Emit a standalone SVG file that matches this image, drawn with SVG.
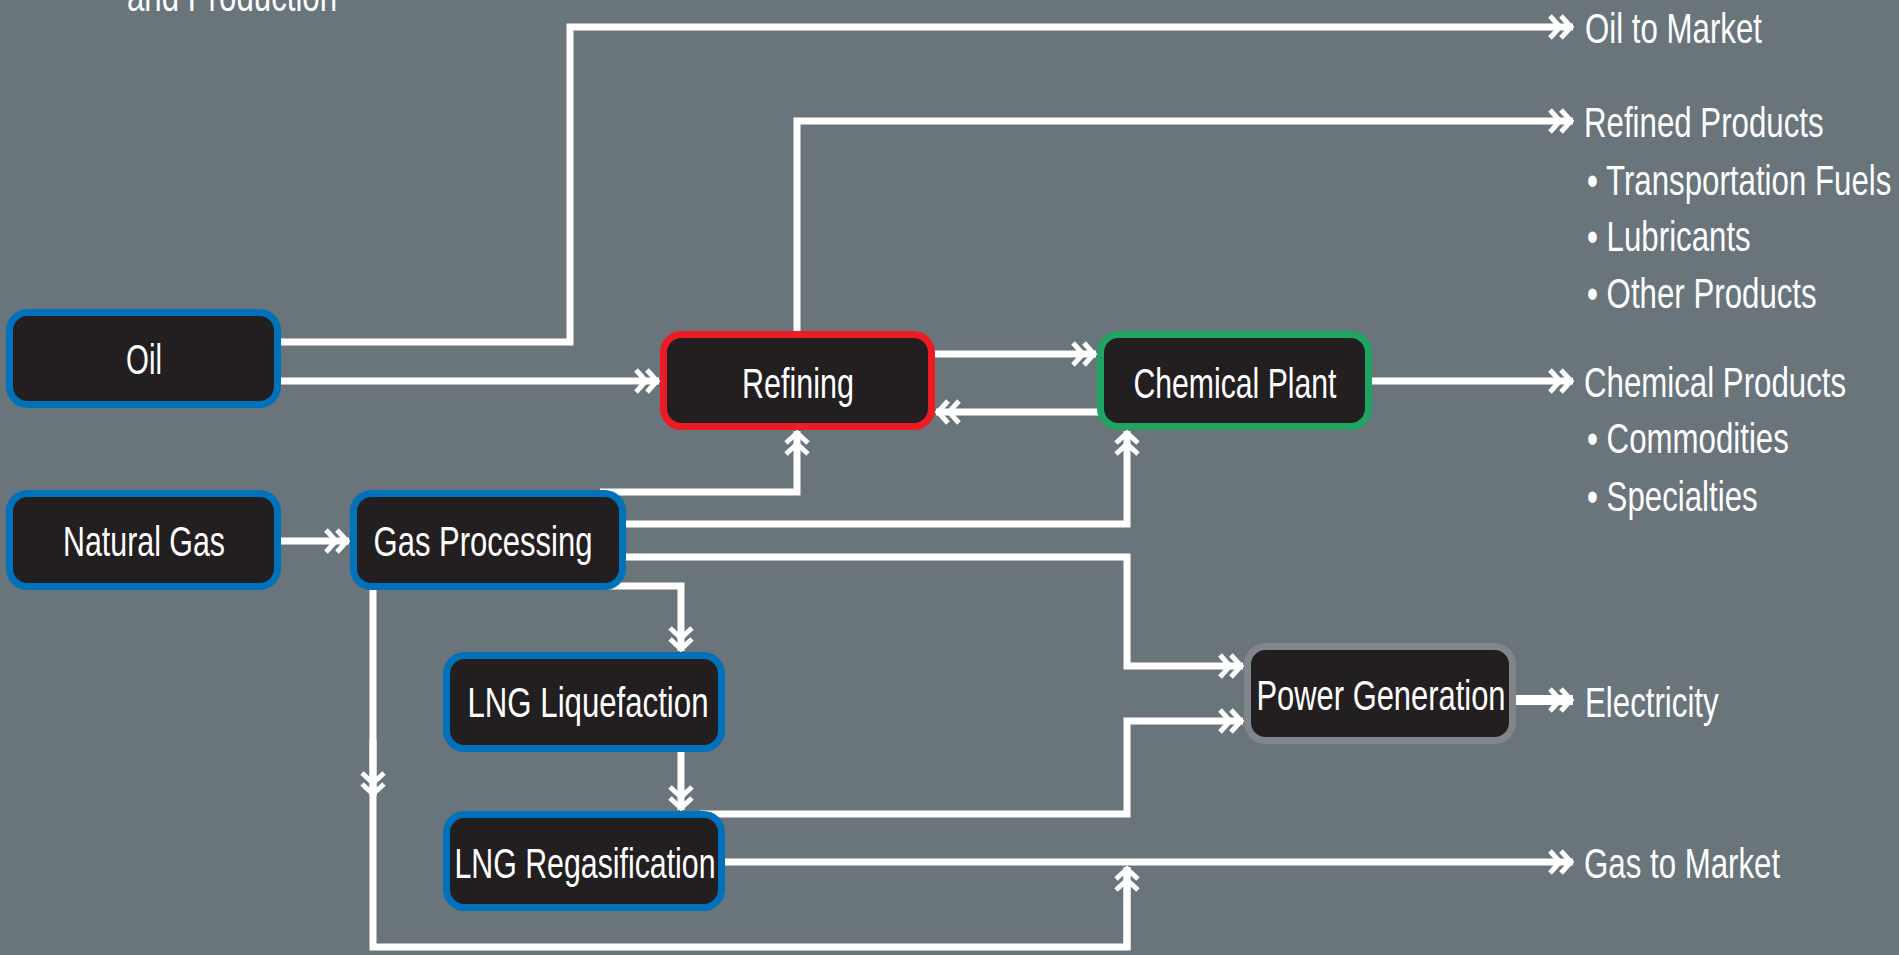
<svg xmlns="http://www.w3.org/2000/svg" width="1899" height="955" viewBox="0 0 1899 955">
<defs>
<style>
.bg{fill:#69747b}
.node{fill:#231f20;stroke-width:7}
.blue{stroke:#0072bc}
.red{stroke:#ed1c24}
.green{stroke:#1fa463}
.gray{stroke:#80868b}
.lbl{font-family:"Liberation Sans",Arial,sans-serif;font-size:42px;fill:#ffffff}
.ntx{text-anchor:middle}
.ln{fill:none;stroke:#ffffff;stroke-width:7;stroke-linejoin:miter;marker-end:url(#dbl)}
.plain{marker-end:none}
</style>
<marker id="dbl" markerUnits="userSpaceOnUse" viewBox="-26 -15 28 30" refX="0" refY="0" markerWidth="28" markerHeight="30" orient="auto" overflow="visible">
<path d="M-23,-11 L-13,0 L-23,11 M-12,-11 L-2,0 L-12,11" fill="none" stroke="#ffffff" stroke-width="5"/>
</marker>
</defs>
<rect class="bg" x="0" y="0" width="1899" height="955"/>
<text class="lbl" transform="translate(127,11) scale(0.744,1)">and Production</text>
<g id="connectors">
<path class="ln" d="M270,342 H570 V27 H1573"/>
<path class="ln" d="M270,381 H659"/>
<path class="ln" d="M797,335 V121 H1573"/>
<path class="ln" d="M930,354 H1096"/>
<path class="ln" d="M1100,412 H936"/>
<path class="ln" d="M1365,381 H1573"/>
<path class="ln" d="M270,541 H349"/>
<path class="ln" d="M600,492 H797 V431"/>
<path class="ln" d="M620,524 H1127 V431"/>
<path class="ln" d="M620,557 H1127 V666 H1243"/>
<path class="ln" d="M600,586 H681 V651"/>
<path class="ln" d="M681,745 V810"/>
<path class="ln" d="M700,814 H1127 V721 H1243"/>
<path class="ln" d="M720,862 H1573"/>
<path class="ln plain" d="M373,585 V947 H1127 V868"/>
<path class="ln" d="M1127,950 V867"/>
<path class="ln" d="M373,740 V796"/>
<path class="ln" d="M1510,700 H1573" style="stroke-width:10"/>
</g>
<g id="oil"><rect class="node blue" x="9.5" y="312.5" width="268" height="92" rx="18"/><text class="lbl ntx" x="144" y="374" textLength="36" lengthAdjust="spacingAndGlyphs">Oil</text></g>
<g id="refining"><rect class="node red" x="663.5" y="334.5" width="268" height="92" rx="18"/><text class="lbl ntx" x="798" y="398" textLength="112" lengthAdjust="spacingAndGlyphs">Refining</text></g>
<g id="chemical-plant"><rect class="node green" x="1100.5" y="334.5" width="268" height="92" rx="18"/><text class="lbl ntx" x="1235" y="398" textLength="203" lengthAdjust="spacingAndGlyphs">Chemical Plant</text></g>
<g id="natural-gas"><rect class="node blue" x="9.5" y="493.5" width="268" height="93" rx="18"/><text class="lbl ntx" x="144" y="556" textLength="162" lengthAdjust="spacingAndGlyphs">Natural Gas</text></g>
<g id="gas-processing"><rect class="node blue" x="353.5" y="493.5" width="269" height="93" rx="18"/><text class="lbl ntx" x="483" y="556" textLength="219" lengthAdjust="spacingAndGlyphs">Gas Processing</text></g>
<g id="lng-liquefaction"><rect class="node blue" x="446.5" y="655.5" width="275" height="93" rx="18"/><text class="lbl ntx" x="588" y="717" textLength="241" lengthAdjust="spacingAndGlyphs">LNG Liquefaction</text></g>
<g id="lng-regasification"><rect class="node blue" x="446.5" y="814.5" width="275" height="93" rx="18"/><text class="lbl ntx" x="585" y="878" textLength="261" lengthAdjust="spacingAndGlyphs">LNG Regasification</text></g>
<g id="power-generation"><rect class="node gray" x="1247.5" y="646.5" width="265" height="94" rx="18"/><text class="lbl ntx" x="1381" y="710" textLength="249" lengthAdjust="spacingAndGlyphs">Power Generation</text></g>
<g id="outputs">
<text class="lbl" transform="translate(1585,43) scale(0.744,1)">Oil to Market</text>
<text class="lbl" transform="translate(1584,137) scale(0.744,1)">Refined Products</text>
<text class="lbl" transform="translate(1587,195) scale(0.744,1)">• Transportation Fuels</text>
<text class="lbl" transform="translate(1587,251) scale(0.744,1)">• Lubricants</text>
<text class="lbl" transform="translate(1587,308) scale(0.744,1)">• Other Products</text>
<text class="lbl" transform="translate(1584,397) scale(0.744,1)">Chemical Products</text>
<text class="lbl" transform="translate(1587,453) scale(0.744,1)">• Commodities</text>
<text class="lbl" transform="translate(1587,511) scale(0.744,1)">• Specialties</text>
<text class="lbl" transform="translate(1585,717) scale(0.744,1)">Electricity</text>
<text class="lbl" transform="translate(1584,878) scale(0.744,1)">Gas to Market</text>
</g>
</svg>
